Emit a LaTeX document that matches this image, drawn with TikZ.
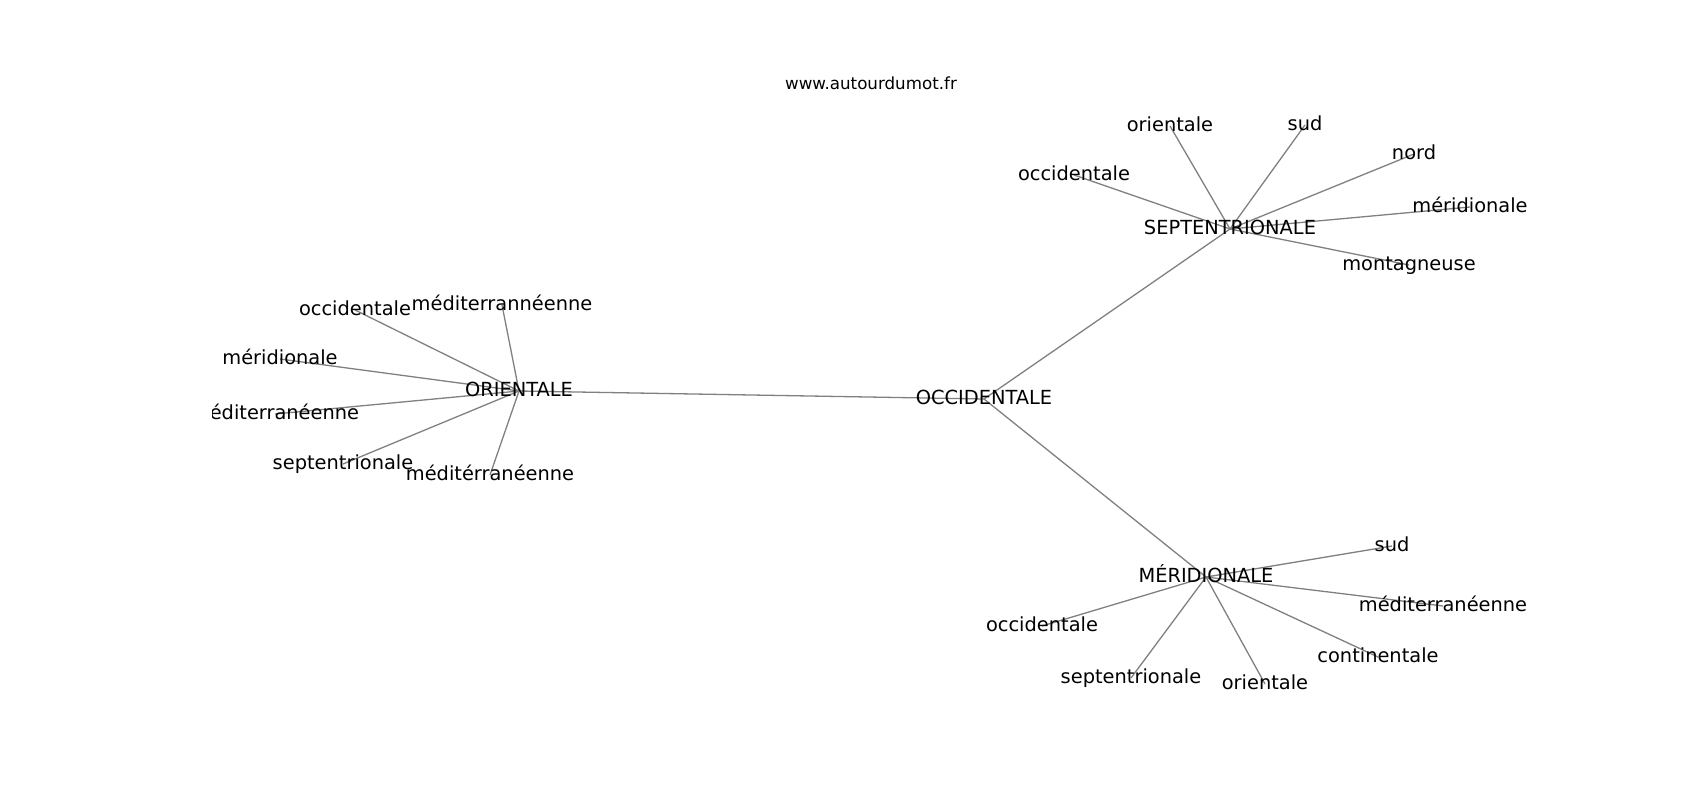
\documentclass[tikz,border=0pt]{standalone}
\usepackage{fontspec}
\setmainfont{DejaVu Sans}
\pgfdeclarelayer{fond}
\pgfsetlayers{fond,main}

\begin{document}
\begin{tikzpicture}[x=1pt, y=-1pt,
	mot/.style={inner sep=0pt, text height=14.7pt, text depth=4.6pt, font=\fontsize{19.4}{23}\selectfont},
	lien/.style={draw=gray, line width=1.3pt}]

		\useasboundingbox (0,0) rectangle (1700,800);

		\newcommand{\mkmot}[4]{
			%placer le mot
			\node[mot] (#2) at (#3) {#4};
			%tracer le lien vers le centre
			\begin{pgfonlayer}{fond}
				\draw[lien] (#1.center) -- (#2.center);
			\end{pgfonlayer}
		}

		\node[font=\fontsize{16.7}{20}\selectfont, anchor=base, inner sep=0pt] (titre) at (871,89) {www.autourdumot.fr};

		\begin{scope}
			\clip (212.5,96) rectangle (1530,712);

			\node[mot] (occ) at (984,399) {OCCIDENTALE};
			\mkmot{occ}{ori}{519,391}{ORIENTALE}
			\mkmot{occ}{sep}{1230,229}{SEPTENTRIONALE}
			\mkmot{occ}{mer}{1206,577}{MÉRIDIONALE}

			%autour de ORIENTALE
			\mkmot{ori}{ori1}{355,310}{occidentale}
			\mkmot{ori}{ori2}{502,305}{méditerrannéenne}
			\mkmot{ori}{ori3}{280,359}{méridionale}
			\mkmot{ori}{ori4}{275,414}{méditerranéenne}
			\mkmot{ori}{ori5}{343,464}{septentrionale}
			\mkmot{ori}{ori6}{490,475}{méditérranéenne}

			%autour de SEPTENTRIONALE
			\mkmot{sep}{sep1}{1074,175}{occidentale}
			\mkmot{sep}{sep2}{1170,126}{orientale}
			\mkmot{sep}{sep3}{1305,125}{sud}
			\mkmot{sep}{sep4}{1414,154}{nord}
			\mkmot{sep}{sep5}{1470,207}{méridionale}
			\mkmot{sep}{sep6}{1409,265}{montagneuse}

			%autour de MÉRIDIONALE
			\mkmot{mer}{mer1}{1392,546}{sud}
			\mkmot{mer}{mer2}{1443,606}{méditerranéenne}
			\mkmot{mer}{mer3}{1042,626}{occidentale}
			\mkmot{mer}{mer4}{1378,657}{continentale}
			\mkmot{mer}{mer5}{1131,678}{septentrionale}
			\mkmot{mer}{mer6}{1265,684}{orientale}
		\end{scope}

\end{tikzpicture}
\end{document}
